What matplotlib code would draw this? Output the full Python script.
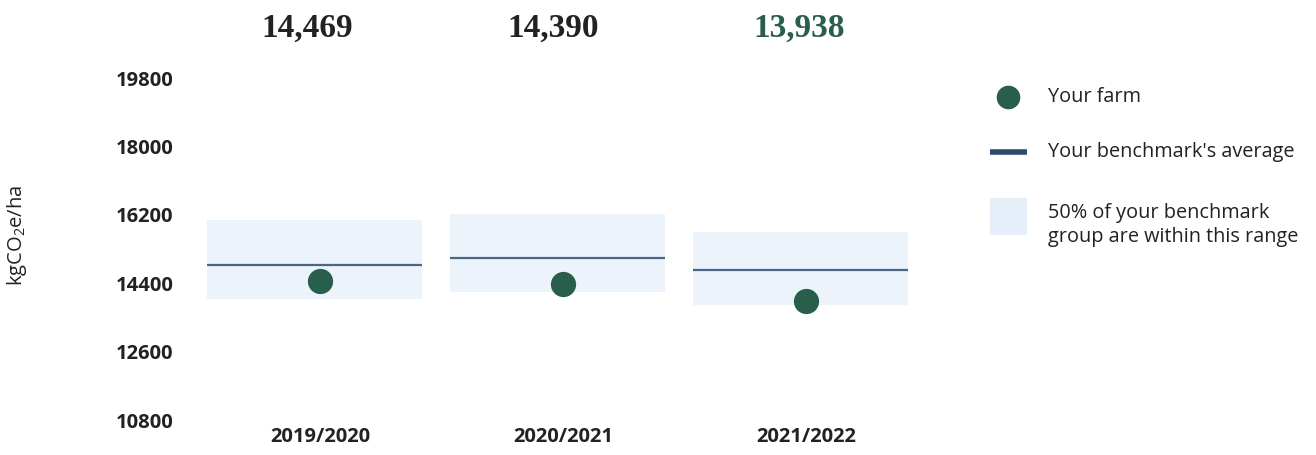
import matplotlib
matplotlib.use("Agg")
import matplotlib.pyplot as plt
from matplotlib.patches import Rectangle
from matplotlib.lines import Line2D

# Data
seasons = ["2019/2020", "2020/2021", "2021/2022"]
farm_values = [14469, 14390, 13938]
benchmark_avg = [14880, 15060, 14750]
benchmark_low = [13980, 14170, 13830]
benchmark_high = [16060, 16220, 15750]
y_ticks = [10800, 12600, 14400, 16200, 18000, 19800]

GREEN = "#285e4b"
LINE = "#4a6686"
BAND = "#edf3fb"
TEXT = "#222222"

plt.rcParams["font.family"] = ["Open Sans", "DejaVu Sans"]
plt.rcParams["mathtext.fontset"] = "custom"
plt.rcParams["mathtext.rm"] = "Open Sans"
plt.rcParams["mathtext.it"] = "Open Sans"

W, H = 1316, 455
fig = plt.figure(figsize=(W / 100, H / 100), dpi=100)
ax = fig.add_axes([190 / W, (H - 420) / H, 740 / W, 342 / H])

x = list(range(len(seasons)))
for i in x:
    ax.add_patch(Rectangle((i - 0.465, benchmark_low[i]), 0.885,
                           benchmark_high[i] - benchmark_low[i],
                           facecolor=BAND, edgecolor="none", zorder=1))
    ax.plot([i - 0.465, i + 0.42], [benchmark_avg[i]] * 2, color=LINE,
            lw=1.6, zorder=2, solid_capstyle="butt")
ax.scatter(x, farm_values, s=330, color=GREEN, zorder=3, linewidths=0)

ax.set_xlim(-0.535, 2.51)
ax.set_ylim(10800, 19800)
ax.set_yticks(y_ticks)
ax.set_yticklabels([str(v) for v in y_ticks])
ax.set_xticks(x)
ax.set_xticklabels(seasons)
ax.tick_params(axis="both", length=0, labelsize=14.5, colors=TEXT)
ax.tick_params(axis="y", pad=12)
ax.tick_params(axis="x", pad=5)
for lab in ax.get_yticklabels() + ax.get_xticklabels():
    lab.set_fontweight("bold")
for s in ax.spines.values():
    s.set_visible(False)

ax.set_ylabel("kgCO$_2$e/ha", fontsize=14.5, color=TEXT)
ax.yaxis.set_label_coords((29 - 190) / 740, (420 - 235) / 342)

# Season totals above each column
for i, v in enumerate(farm_values):
    col = GREEN if i == len(farm_values) - 1 else TEXT
    fig.text((307 + 246 * i) / W, 1 - 28 / H, f"{v:,}",
             ha="center", va="center", fontsize=24, fontweight="bold",
             family="Liberation Serif", color=col)

# Legend
fig.add_artist(Line2D([1008 / W], [1 - 97 / H], marker="o", markersize=17,
                      color=GREEN, markeredgewidth=0, transform=fig.transFigure))
fig.add_artist(Line2D([990 / W, 1027 / W], [1 - 152 / H] * 2, color="#2c4a6e",
                      lw=4, transform=fig.transFigure, solid_capstyle="butt"))
fig.add_artist(Rectangle((990 / W, 1 - 235 / H), 37 / W, 37 / H,
                         facecolor="#e6eefa", edgecolor="none",
                         transform=fig.transFigure))
fs_leg = 14.3
fig.text(1048 / W, 1 - 97 / H, "Your farm", fontsize=fs_leg, color=TEXT,
         va="center", ha="left")
fig.text(1048 / W, 1 - 152 / H, "Your benchmark's average", fontsize=fs_leg,
         color=TEXT, va="center", ha="left")
fig.text(1048 / W, 1 - 225 / H, "50% of your benchmark\ngroup are within this range",
         fontsize=fs_leg, color=TEXT, va="center", ha="left", linespacing=1.3)

fig.savefig("out.png", dpi=100, facecolor="white")
